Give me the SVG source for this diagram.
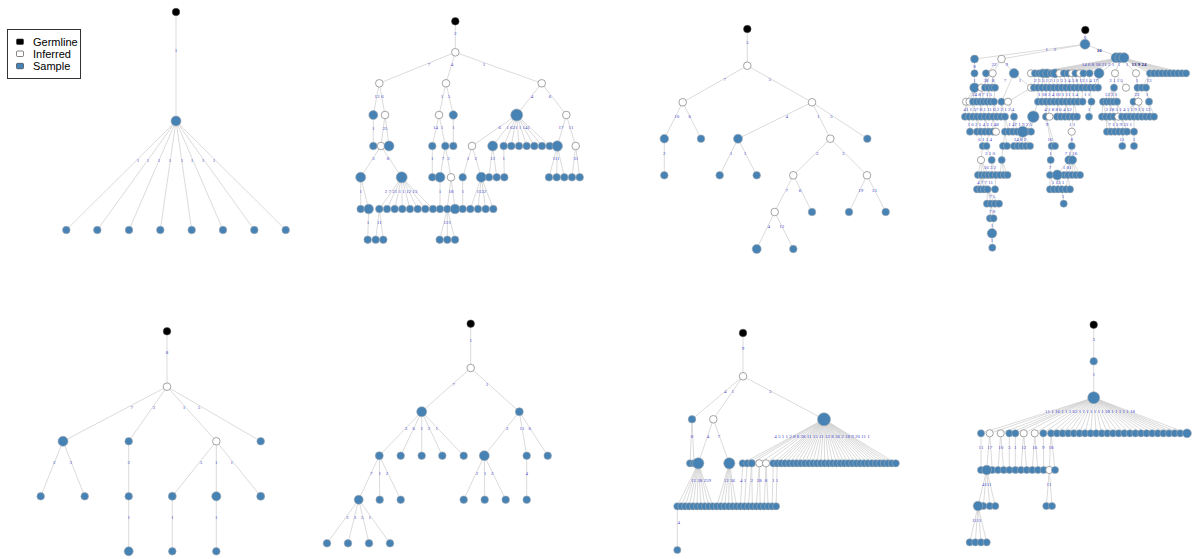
<svg xmlns="http://www.w3.org/2000/svg" width="1192" height="559" viewBox="0 0 1192 559">
<style>
.e{stroke:#d2d2d2;stroke-width:0.8;fill:none}
.s{fill:#4682b4;stroke:#a3aab2;stroke-width:0.6}
.i{fill:#fff;stroke:#8e8e8e;stroke-width:0.8}
.g{fill:#000;stroke:#555;stroke-width:0.5}
.l{font-family:"Liberation Serif",serif;font-size:5px;fill:#4848cc;text-anchor:middle}
.d{font-family:"Liberation Serif",serif;font-size:5px;fill:#1c1c8a;text-anchor:middle;font-weight:bold}
.lg{font-family:"Liberation Sans",Arial,sans-serif;font-size:11px;fill:#000}
</style>
<rect width="1192" height="559" fill="#fff"/>
<g id="legend">
<rect x="7.5" y="29.5" width="73" height="49" fill="#fff" stroke="#333" stroke-width="1"/>
<rect x="16.5" y="39" width="7" height="5.5" rx="1" fill="#000" stroke="#333" stroke-width="0.6"/>
<rect x="16.5" y="51" width="7" height="5.5" rx="1" fill="#fff" stroke="#333" stroke-width="0.6"/>
<rect x="16.5" y="63.3" width="7" height="5.5" rx="1" fill="#4682b4" stroke="#333" stroke-width="0.6"/>
<text class="lg" x="33" y="45.8">Germline</text>
<text class="lg" x="33" y="57.8">Inferred</text>
<text class="lg" x="33" y="70.1">Sample</text>
</g>
<g id="connectors">
<path class="e" d="M176 12V121M176 121L66.3 230M176 121L97.3 230M176 121L129 230M176 121L160.3 230M176 121L191.7 230M176 121L223 230M176 121L254.3 230M176 121L285.7 230"/>
<path class="e" d="M455.3 21.3V52.3M455.3 52.3L379.3 83.3M455.3 52.3L446 83.3M455.3 52.3L541.7 83.3M379.3 83.3L373.3 115M379.3 83.3L385 115M373.3 115V146M385 115L381 146M385 115L389 146M381 146L360.7 177.3M381 146L401.7 177.3M360.7 177.3V209M360.7 177.3L368.7 209M368.7 209L367.7 239.7M401.7 177.3L379.3 209M401.7 177.3L387 209M401.7 177.3L394.7 209M401.7 177.3L402.3 209M401.7 177.3L410 209M401.7 177.3L417.7 209M401.7 177.3L425.3 209M401.7 177.3L433 209M379.3 209L375.7 239.7M379.3 209L383.3 239.7M446 83.3L439 115M446 83.3L453.3 115M439 115L432.3 146M439 115L445.3 146M453.3 115V146M432.3 146V177.3M445.3 146L440 177.3M445.3 146L451 177.3M440 177.3V209M451 177.3L447.3 209M451 177.3L455 209M447.3 209L439.7 239.7M447.3 209V239.7M447.3 209L455 239.7M541.7 83.3L516.7 115M541.7 83.3L566.3 115M516.7 115L472 146M516.7 115L492.7 146M516.7 115L503.7 146M516.7 115L511.3 146M516.7 115L519 146M516.7 115L526.7 146M516.7 115L534.3 146M516.7 115L542 146M516.7 115L549.7 146M566.3 115L557.3 146M566.3 115L575.7 146M472 146L462.7 177.3M472 146L481.3 177.3M462.7 177.3V209M481.3 177.3L470.3 209M481.3 177.3L478 209M481.3 177.3L485.7 209M481.3 177.3L493.3 209M492.7 146L489 177.3M492.7 146L496.7 177.3M503.7 146L504.3 177.3M557.3 146L549 177.3M557.3 146L556.7 177.3M557.3 146L564.3 177.3M575.7 146L572 177.3M575.7 146L579.7 177.3"/>
<path class="e" d="M747.3 29V65.7M747.3 65.7L682.7 102.3M747.3 65.7L812 102.3M682.7 102.3L664.3 138.7M682.7 102.3L701 138.7M664.3 138.7V175.3M812 102.3L738 138.7M812 102.3L830.3 138.7M812 102.3L867.3 138.7M738 138.7L719.7 175.3M738 138.7L756.7 175.3M830.3 138.7L793.3 175.3M830.3 138.7L867 175.3M793.3 175.3L774.7 212M793.3 175.3L812 212M867 175.3L849 212M867 175.3L885.7 212M774.7 212L756.7 249M774.7 212L793.3 249"/>
<path class="e" d="M1085 30V44.3M1085 44.3L974.5 59M1085 44.3L1001.5 59M1085 44.3L1121 57.7M974.5 59V73.3M1001.5 59L986 73.3M1001.5 59L992.7 73.3M1001.5 59L1014 73.3M1121 57.7L1031 73.3M1121 57.7L1035 73.3M1121 57.7L1039 73.3M1121 57.7L1043 73.3M1121 57.7L1047 73.3M1121 57.7L1051 73.3M1121 57.7L1055 73.3M1121 57.7L1059.5 73.3M1121 57.7L1064 73.3M1121 57.7L1068 73.3M1121 57.7L1072 73.3M1121 57.7L1075.5 73.3M1121 57.7L1080 73.3M1121 57.7L1083.5 73.3M1121 57.7L1089.5 73.3M1121 57.7L1099 73.3M1121 57.7L1115 73.3M1121 57.7L1136 73.3M1121 57.7L1150 73.3M1121 57.7L1154 73.3M1121 57.7L1158 73.3M1121 57.7L1162 73.3M1121 57.7L1166 73.3M1121 57.7L1170 73.3M1121 57.7L1174 73.3M1121 57.7L1178 73.3M1121 57.7L1182 73.3M1121 57.7L1186 73.3M974.5 73.3V87.7M986 73.3L985 87.7M986 73.3L988.5 87.7M992.7 73.3L992 87.7M992.7 73.3L995 87.7M992.7 73.3L981.5 87.7M1014 73.3L1031 87.7M1014 73.3L1001.5 101.7M1035 73.3L1034 87.7M1039 73.3L1038 87.7M1043 73.3L1042 87.7M1043 73.3L1046 87.7M1047 73.3L1050 87.7M1051 73.3L1054 87.7M1055 73.3L1058 87.7M1059.5 73.3L1062 87.7M1064 73.3L1066 87.7M1068 73.3L1070 87.7M1072 73.3L1074 87.7M1075.5 73.3L1078 87.7M1080 73.3L1082 87.7M1083.5 73.3L1086 87.7M1089.5 73.3L1090 87.7M1099 73.3L1094 87.7M1099 73.3L1098 87.7M1115 73.3L1114 87.7M1115 73.3L1126 87.7M1136 73.3L1137.5 87.7M1150 73.3L1142 87.7M1150 73.3L1146 87.7M974.5 87.7L966 101.7M974.5 87.7L969.5 101.7M974.5 87.7L973 101.7M974.5 87.7L976.5 101.7M981.5 87.7L980 101.7M981.5 87.7L983.5 101.7M988.5 87.7L987 101.7M988.5 87.7L990.5 101.7M995 87.7L994 101.7M1031 87.7L1008 101.7M1038 87.7V101.7M1042 87.7V101.7M1046 87.7V101.7M1050 87.7V101.7M1054 87.7V101.7M1058 87.7V101.7M1062 87.7V101.7M1066 87.7V101.7M1070 87.7V101.7M1074 87.7V101.7M1078 87.7V101.7M1082 87.7L1082.5 101.7M1090 87.7L1091.5 101.7M1114 87.7L1103 101.7M1114 87.7L1106.5 101.7M1114 87.7L1110 101.7M1114 87.7L1113.5 101.7M1114 87.7L1117 101.7M1137.5 87.7L1133.5 101.7M1137.5 87.7L1138.5 101.7M1146 87.7L1149 101.7M966 101.7L965 116.7M966 101.7L969 116.7M973 101.7V116.7M973 101.7L977 116.7M980 101.7L981 116.7M980 101.7L985 116.7M987 101.7L989 116.7M994 101.7L993 116.7M994 101.7L997 116.7M1001.5 101.7L1001 116.7M1001.5 101.7L1005 116.7M1008 101.7L1014 116.7M1038 101.7L1033.3 116.7M1046 101.7V116.7M1046 101.7L1049.5 116.7M1058 101.7L1057 116.7M1058 101.7L1061 116.7M1066 101.7L1065 116.7M1066 101.7L1069 116.7M1074 101.7L1073 116.7M1074 101.7L1077 116.7M1091.5 101.7L1089 116.7M1103 101.7L1102 116.7M1103 101.7L1106 116.7M1110 101.7V116.7M1110 101.7L1114 116.7M1117 101.7L1118.3 116.7M1117 101.7L1122 116.7M1133.5 101.7L1126 116.7M1133.5 101.7L1130 116.7M1133.5 101.7L1134 116.7M1138.5 101.7L1138 116.7M1138.5 101.7L1142 116.7M1138.5 101.7L1146 116.7M1149 101.7L1150 116.7M1149 101.7L1154 116.7M969 116.7L970 131.7M977 116.7V131.7M977 116.7L981 131.7M985 116.7V131.7M985 116.7L989 131.7M993 116.7V131.7M993 116.7L996 131.7M1005 116.7V131.7M1005 116.7L1009 131.7M1014 116.7L1013 131.7M1014 116.7L1017 131.7M1033.3 116.7L1022.7 131.7M1033.3 116.7L1027 131.7M1033.3 116.7L1031 131.7M1073 116.7L1071.7 131.7M1106 116.7L1107 131.7M1106 116.7L1111 131.7M1114 116.7L1115 131.7M1114 116.7L1119 131.7M1122 116.7L1123 131.7M1122 116.7L1127 131.7M1134 116.7V131.7M981 131.7L982.7 146M989 131.7L986.5 146M1005 131.7L1003 146M1005 131.7L1007 146M1022.7 131.7L1014 146M1022.7 131.7L1018 146M1022.7 131.7L1022 146M1022.7 131.7L1026 146M1022.7 131.7L1030 146M1046 116.7L1051.7 146M1046 116.7L1055 146M1071.7 131.7V146M1123 131.7L1122.3 146M1134 131.7V146M982.7 146L981 160M986.5 146L991.7 160M1003 146L1001.7 160M1051.7 146L1050.7 160M1071.7 146L1069 160M1071.7 146L1072.5 160M981 160L978 175M981 160L981.5 175M981 160L985 175M981 160L988.5 175M991.7 160L992 175M991.7 160L996 175M1001.7 160L1000 175M1001.7 160L1004 175M1001.7 160L1007.5 175M1050.7 160L1050 175M1069 160L1057.3 175M1072.5 160L1064 175M1072.5 160L1068 175M1072.5 160L1072 175M1072.5 160L1076 175M1072.5 160L1080 175M981.5 175L977 189.3M981.5 175L980.5 189.3M981.5 175L984 189.3M981.5 175L987.5 189.3M996 175L995 189.3M1050 175V189.3M1050 175L1054 189.3M1057.3 175L1058 189.3M1057.3 175L1062 189.3M1068 175L1066 189.3M1068 175L1070 189.3M987.5 189.3L987 203.7M987.5 189.3L991 203.7M987.5 189.3L995 203.7M987.5 189.3L999 203.7M1062 189.3L1063.7 203.7M991 203.7L990 218.3M991 203.7L993.5 218.3M993.5 218.3L992 233.3M992 233.3L992.3 247.7"/>
<path class="e" d="M167 331.3V386.7M167 386.7L63 441.3M167 386.7L128.7 441.3M167 386.7L216.3 441.3M167 386.7L260.7 441.3M63 441.3L40.7 496.3M63 441.3L84.7 496.3M128.7 441.3V551.3M216.3 441.3L172.3 496.3M216.3 441.3V496.3M216.3 441.3L260.7 496.3M172.3 496.3V551.3M216.3 496.3V551.3"/>
<path class="e" d="M470.7 323.7V368M470.7 368L421.7 411.7M470.7 368L519.3 411.7M421.7 411.7L379.3 455.7M421.7 411.7L400.7 455.7M421.7 411.7L421.7 455.7M421.7 411.7L442.3 455.7M421.7 411.7L463.7 455.7M519.3 411.7L484.3 455.7M519.3 411.7L526.7 455.7M519.3 411.7L547.7 455.7M379.3 455.7L358.7 499.7M379.3 455.7L379.7 499.7M379.3 455.7L400.7 499.7M358.7 499.7L327 543.3M358.7 499.7L348 543.3M358.7 499.7L369 543.3M358.7 499.7L390 543.3M484.3 455.7L463.7 499.7M484.3 455.7L484.7 499.7M484.3 455.7L505.7 499.7M526.7 455.7V499.7"/>
<path class="e" d="M743 333V376.3M743 376.3L692 419.3M743 376.3L713.3 419.3M743 376.3L824 419.3M692 419.3L690 463.3M692 419.3L694 463.3M713.3 419.3L698.3 463.3M713.3 419.3L729.3 463.3M824 419.3L742.7 463.3M824 419.3L747.2 463.3M824 419.3L751.7 463.3M824 419.3L759.3 463.3M824 419.3L766 463.3M824 419.3L773.3 463.3M824 419.3L777.25 463.3M824 419.3L781.2 463.3M824 419.3L785.15 463.3M824 419.3L789.1 463.3M824 419.3L793.05 463.3M824 419.3L797 463.3M824 419.3L800.95 463.3M824 419.3L804.9 463.3M824 419.3L808.85 463.3M824 419.3L812.8 463.3M824 419.3L816.75 463.3M824 419.3L820.7 463.3M824 419.3L824.65 463.3M824 419.3L828.6 463.3M824 419.3L832.55 463.3M824 419.3L836.5 463.3M824 419.3L840.45 463.3M824 419.3L844.4 463.3M824 419.3L848.35 463.3M824 419.3L852.3 463.3M824 419.3L856.25 463.3M824 419.3L860.2 463.3M824 419.3L864.15 463.3M824 419.3L868.1 463.3M824 419.3L872.05 463.3M824 419.3L876 463.3M824 419.3L879.95 463.3M824 419.3L883.9 463.3M824 419.3L887.85 463.3M824 419.3L891.8 463.3M824 419.3L895.75 463.3M698.3 463.3L677.3 506.3M698.3 463.3L681.25 506.3M698.3 463.3L685.2 506.3M698.3 463.3L689.15 506.3M698.3 463.3L693.1 506.3M698.3 463.3L697.05 506.3M698.3 463.3L701 506.3M698.3 463.3L704.95 506.3M698.3 463.3L708.9 506.3M698.3 463.3L712.85 506.3M729.3 463.3L716.8 506.3M729.3 463.3L720.75 506.3M729.3 463.3L724.7 506.3M729.3 463.3L728.65 506.3M729.3 463.3L732.6 506.3M729.3 463.3L736.55 506.3M742.7 463.3L740.5 506.3M747.2 463.3L744.45 506.3M751.7 463.3L748.4 506.3M751.7 463.3L752.35 506.3M759.3 463.3L756.3 506.3M759.3 463.3L760.25 506.3M766 463.3L764.2 506.3M766 463.3L768.15 506.3M773.3 463.3L772.1 506.3M777.25 463.3L776.05 506.3M677.3 506.3V550"/>
<path class="e" d="M1093.7 324.7V397.7M1093.7 397.7L981 433.3M1093.7 397.7L989.7 433.3M1093.7 397.7L1000.7 433.3M1093.7 397.7L1009.3 433.3M1093.7 397.7L1015.3 433.3M1093.7 397.7L1023.7 433.3M1093.7 397.7L1034.7 433.3M1093.7 397.7L1043.3 433.3M1093.7 397.7L1051 433.3M1093.7 397.7L1057 433.3M1093.7 397.7L1062.6 433.3M1093.7 397.7L1068.2 433.3M1093.7 397.7L1073.8 433.3M1093.7 397.7L1079.4 433.3M1093.7 397.7L1085 433.3M1093.7 397.7L1090.6 433.3M1093.7 397.7L1096.2 433.3M1093.7 397.7L1101.8 433.3M1093.7 397.7L1107.4 433.3M1093.7 397.7L1113 433.3M1093.7 397.7L1118.6 433.3M1093.7 397.7L1124.2 433.3M1093.7 397.7L1129.8 433.3M1093.7 397.7L1135.4 433.3M1093.7 397.7L1141 433.3M1093.7 397.7L1146.6 433.3M1093.7 397.7L1152.2 433.3M1093.7 397.7L1157.8 433.3M1093.7 397.7L1163.4 433.3M1093.7 397.7L1169 433.3M1093.7 397.7L1174.6 433.3M1093.7 397.7L1180.2 433.3M1093.7 397.7L1187 433.3M981 433.3V470M989.7 433.3L986.7 470M989.7 433.3L992.3 470M1000.7 433.3L998 470M1000.7 433.3L1003.7 470M1009.3 433.3V470M1015.3 433.3V470M1023.7 433.3L1021 470M1023.7 433.3L1026.7 470M1034.7 433.3L1032.3 470M1034.7 433.3L1038 470M1043.3 433.3L1043.7 470M1051 433.3L1049.3 470M1051 433.3L1055 470M986.7 470L978 506M986.7 470L983.3 506M986.7 470L989.7 506M986.7 470L995.3 506M1049.3 470L1046.3 506M1049.3 470L1052 506M978 506L969.7 542.3M978 506L975.3 542.3M978 506L981 542.3M978 506L986.7 542.3"/>
</g>
<g id="edge-labels">
<text class="l" x="176" y="51.5">1</text>
<text class="l" x="138" y="161.5">1</text><text class="l" x="148" y="161.5">1</text><text class="l" x="159" y="161.5">1</text><text class="l" x="170" y="161.5">1</text><text class="l" x="182" y="161.5">1</text><text class="l" x="192" y="161.5">1</text><text class="l" x="203" y="161.5">1</text><text class="l" x="214" y="161.5">1</text>
<text class="l" x="455.3" y="35">2</text>
<text class="l" x="429" y="66">7</text><text class="l" x="452" y="66">4</text><text class="l" x="484" y="66">1</text>
<text class="l" x="377" y="97.5">13</text><text class="l" x="382.5" y="97.5">6</text>
<text class="l" x="373.3" y="129.5">1</text><text class="l" x="385" y="129.5">25</text>
<text class="l" x="373.3" y="159.5">3</text><text class="l" x="388" y="159.5">8</text>
<text class="l" x="360.7" y="192.5">1</text><text class="l" x="401" y="192.5">2 7 21 1 1 12 13</text>
<text class="l" x="368" y="223.5">1</text><text class="l" x="379.3" y="223.5">11</text>
<text class="l" x="442" y="97.5">1</text><text class="l" x="449" y="97.5">5</text>
<text class="l" x="435.5" y="128.5">14</text><text class="l" x="442" y="128.5">1</text><text class="l" x="453.3" y="128.5">1</text>
<text class="l" x="432.3" y="159.5">1</text><text class="l" x="443" y="159.5">7</text><text class="l" x="448.5" y="159.5">2</text>
<text class="l" x="440" y="192.5">1</text><text class="l" x="451" y="192.5">18</text>
<text class="l" x="447.3" y="223.5">121</text>
<text class="l" x="532" y="97.5">4</text><text class="l" x="550" y="97.5">6</text>
<text class="l" x="499.7" y="128.5">6</text><text class="l" x="518" y="128.5">1 621 1 141</text>
<text class="l" x="561" y="128.5">17</text><text class="l" x="571" y="128.5">11</text>
<text class="l" x="468" y="159.5">1</text><text class="l" x="475.7" y="159.5">2</text><text class="l" x="492.7" y="159.5">12</text><text class="l" x="503.7" y="159.5">1</text><text class="l" x="556" y="159.5">111</text><text class="l" x="575.7" y="159.5">31</text>
<text class="l" x="462.7" y="192.5">1</text><text class="l" x="481.3" y="192.5">1122</text>
<text class="l" x="747.3" y="44">5</text>
<text class="l" x="724.7" y="81">7</text><text class="l" x="769.7" y="81">5</text>
<text class="l" x="676.7" y="118">10</text><text class="l" x="689.7" y="118">6</text><text class="l" x="786.7" y="118">4</text><text class="l" x="818.3" y="118">1</text><text class="l" x="831.3" y="118">5</text>
<text class="l" x="664.3" y="155">2</text><text class="l" x="731" y="155">1</text><text class="l" x="745" y="155">1</text><text class="l" x="817.3" y="155">2</text><text class="l" x="843.3" y="155">3</text>
<text class="l" x="786.7" y="191.5">7</text><text class="l" x="800" y="191.5">6</text><text class="l" x="860.7" y="191.5">19</text><text class="l" x="874.3" y="191.5">13</text>
<text class="l" x="768.7" y="227.5">4</text><text class="l" x="781.7" y="227.5">12</text>
<text class="l" x="1085" y="39">0</text>
<text class="l" x="1046.7" y="50.5">1</text><text class="l" x="1055" y="50.5">2</text>
<text class="d" x="1099.3" y="51.5">16</text>
<text class="l" x="1098" y="66">14 6 8 18 21 2 1</text><text class="l" x="1119" y="66">1</text><text class="l" x="1127" y="66">1</text><text class="d" x="1139" y="66">13 9 24</text>
<text class="l" x="974.5" y="67.5">8</text><text class="l" x="994" y="66">22</text><text class="l" x="1006.7" y="66">9</text>
<text class="l" x="974.5" y="82">1</text><text class="l" x="986" y="82">38</text><text class="l" x="993" y="82">8</text><text class="l" x="1005" y="82">7</text><text class="l" x="1020" y="82">1</text>
<text class="l" x="1066" y="82">2 3 5 1 2 1 1 3 1 4 3 8 13 1 4 17</text><text class="l" x="1116" y="82">2 1 1 5</text><text class="l" x="1137" y="82">1</text><text class="l" x="1149" y="82">13</text>
<text class="l" x="982" y="96">24 8 7 1 5</text><text class="l" x="1058" y="96">1 18 2 4 10 1 11 1 4</text><text class="l" x="1087" y="96">1 1</text><text class="l" x="1111" y="96">13 3 1</text><text class="l" x="1137" y="96">22</text><text class="l" x="1147" y="96">1</text>
<text class="l" x="985" y="110.5">41 1 57 8 1 11 6 2 2 1</text><text class="l" x="1011" y="110.5">2 4</text><text class="l" x="1058" y="110.5">4 1 8 8 6 4 12</text><text class="l" x="1089" y="110.5">1</text><text class="l" x="1128" y="110.5">2 18 5 1 4 1 1 9 1 2 13</text>
<text class="l" x="983" y="125.5">1 6 2 1 4 3 1 48</text><text class="l" x="1020" y="125.5">1 47 1 9 2 5</text><text class="l" x="1047" y="125.5">9</text><text class="l" x="1072" y="125.5">1 1</text><text class="l" x="1120" y="125.5">7 1 3 9 23 1</text>
<text class="l" x="985" y="140.5">6 1 1 4</text><text class="l" x="1020" y="140.5">14 8 2</text><text class="l" x="1050" y="140.5">16</text><text class="l" x="1071.7" y="140.5">8</text><text class="l" x="1122" y="140.5">11</text><text class="l" x="1134" y="140.5">1</text>
<text class="l" x="990" y="154.5">3 1 0</text><text class="l" x="1050.5" y="154.5">1</text><text class="l" x="1071" y="154.5">7 1 16</text>
<text class="l" x="990" y="169">16 3 2</text><text class="l" x="1050" y="169">7</text><text class="l" x="1067" y="169">1 81</text>
<text class="l" x="985" y="183.5">4 7 7 11</text><text class="l" x="1058" y="183.5">1 13 1</text>
<text class="l" x="992" y="198">7 5</text><text class="l" x="1063" y="198">1</text>
<text class="l" x="992" y="212.5">7 8</text>
<text class="l" x="992" y="227.3">1</text>
<text class="l" x="992" y="242">1</text>
<text class="l" x="167" y="353.5">8</text>
<text class="l" x="131.7" y="408.5">7</text><text class="l" x="153.7" y="408.5">3</text><text class="l" x="184" y="408.5">1</text><text class="l" x="199" y="408.5">5</text>
<text class="l" x="54.3" y="463.5">2</text><text class="l" x="70.7" y="463.5">3</text><text class="l" x="128.7" y="463.5">2</text><text class="l" x="201" y="463.5">3</text><text class="l" x="216.3" y="463.5">1</text><text class="l" x="231.7" y="463.5">1</text>
<text class="l" x="128.7" y="518.5">1</text><text class="l" x="172.3" y="518.5">1</text><text class="l" x="216.3" y="518.5">1</text>
<text class="l" x="470.7" y="341.5">1</text>
<text class="l" x="453.7" y="385.5">7</text><text class="l" x="487" y="385.5">1</text>
<text class="l" x="406" y="430">3</text><text class="l" x="413.7" y="430">6</text><text class="l" x="421.7" y="430">1</text><text class="l" x="429" y="430">2</text><text class="l" x="436.7" y="430">1</text><text class="l" x="507" y="430">3</text><text class="l" x="522" y="430">11</text><text class="l" x="529.7" y="430">6</text>
<text class="l" x="371.3" y="475">7</text><text class="l" x="379.7" y="475">1</text><text class="l" x="387" y="475">2</text><text class="l" x="477" y="475">2</text><text class="l" x="485" y="475">1</text><text class="l" x="492.3" y="475">2</text><text class="l" x="526.7" y="475">4</text>
<text class="l" x="347.3" y="518.5">2</text><text class="l" x="355" y="518.5">3</text><text class="l" x="362.3" y="518.5">5</text><text class="l" x="369.7" y="518.5">1</text>
<text class="l" x="743" y="350">9</text>
<text class="l" x="725.3" y="392.5">4</text><text class="l" x="732.7" y="392.5">1</text><text class="l" x="770.3" y="392.5">5</text>
<text class="l" x="692" y="438">8</text><text class="l" x="708" y="438">4</text><text class="l" x="719" y="438">7</text>
<text class="l" x="822" y="438">4 5 1 1 2 8 8 38 11 15 11 12 8 36 2 18 9 20 11 1</text>
<text class="l" x="701" y="482">12 38 259</text><text class="l" x="729.3" y="482">12 36</text><text class="l" x="743" y="482">4 1</text><text class="l" x="751.7" y="482">2</text><text class="l" x="759.3" y="482">28</text><text class="l" x="766" y="482">8</text><text class="l" x="775.2" y="482">1 1</text>
<text class="l" x="678.7" y="523.5">4</text>
<text class="l" x="1093.7" y="340.5">3</text><text class="l" x="1093.7" y="375.5">1</text>
<text class="l" x="1090" y="412.5">11 1 16 1 1 1 62 1 1 1 1 1 1 1 28 1 1 1 1 1 18</text>
<text class="l" x="981" y="448.5">11</text><text class="l" x="989.7" y="448.5">17</text><text class="l" x="1000.7" y="448.5">10</text><text class="l" x="1009.3" y="448.5">3</text><text class="l" x="1015.3" y="448.5">1</text><text class="l" x="1023.7" y="448.5">12</text><text class="l" x="1034.7" y="448.5">16</text><text class="l" x="1043.3" y="448.5">9</text><text class="l" x="1051" y="448.5">18</text>
<text class="l" x="986.7" y="485.5">4111</text><text class="l" x="1049" y="485.5">11</text>
<text class="l" x="976.7" y="521.5">1111</text>
</g>
<g id="tree1">
<g id="t1-germline"><circle class="g" cx="176" cy="12" r="3.8"/></g>
<g id="t1-n1"><circle class="s" cx="176" cy="121" r="5"/></g>
<g id="t1-leaves"><circle class="s" cx="66.3" cy="230" r="3.8"/><circle class="s" cx="97.3" cy="230" r="3.8"/><circle class="s" cx="129" cy="230" r="3.8"/><circle class="s" cx="160.3" cy="230" r="3.8"/><circle class="s" cx="191.7" cy="230" r="3.8"/><circle class="s" cx="223" cy="230" r="3.8"/><circle class="s" cx="254.3" cy="230" r="3.8"/><circle class="s" cx="285.7" cy="230" r="3.8"/></g>
</g>
<g id="tree2">
<g id="t2-germline"><circle class="g" cx="455.3" cy="21.3" r="3.8"/></g>
<g id="t2-inferred"><circle class="i" cx="455.3" cy="52.3" r="3.8"/><circle class="i" cx="379.3" cy="83.3" r="3.8"/><circle class="i" cx="446" cy="83.3" r="3.8"/><circle class="i" cx="541.7" cy="83.3" r="3.8"/><circle class="i" cx="385" cy="115" r="3.8"/><circle class="i" cx="439" cy="115" r="3.8"/><circle class="i" cx="566.3" cy="115" r="3.8"/><circle class="i" cx="381" cy="146" r="3.8"/><circle class="i" cx="472" cy="146" r="3.8"/><circle class="i" cx="575.7" cy="146" r="3.8"/><circle class="i" cx="451" cy="177.3" r="3.8"/></g>
<g id="t2-row115"><circle class="s" cx="373.3" cy="115" r="4.5"/><circle class="s" cx="453.3" cy="115" r="4.2"/><circle class="s" cx="516.7" cy="115" r="6"/></g>
<g id="t2-row146"><circle class="s" cx="373.3" cy="146" r="3.8"/><circle class="s" cx="389" cy="146" r="5"/><circle class="s" cx="432.3" cy="146" r="3.8"/><circle class="s" cx="445.3" cy="146" r="3.8"/><circle class="s" cx="453.3" cy="146" r="3.8"/><circle class="s" cx="492.7" cy="146" r="5"/><circle class="s" cx="503.7" cy="146" r="3.8"/><circle class="s" cx="511.3" cy="146" r="3.8"/><circle class="s" cx="519" cy="146" r="3.8"/><circle class="s" cx="526.7" cy="146" r="3.8"/><circle class="s" cx="534.3" cy="146" r="3.8"/><circle class="s" cx="542" cy="146" r="3.8"/><circle class="s" cx="549.7" cy="146" r="3.8"/><circle class="s" cx="557.3" cy="146" r="5.2"/></g>
<g id="t2-row177"><circle class="s" cx="360.7" cy="177.3" r="5"/><circle class="s" cx="401.7" cy="177.3" r="5.5"/><circle class="s" cx="432.3" cy="177.3" r="3.8"/><circle class="s" cx="440" cy="177.3" r="5"/><circle class="s" cx="462.7" cy="177.3" r="3.8"/><circle class="s" cx="481.3" cy="177.3" r="5"/><circle class="s" cx="489" cy="177.3" r="3.8"/><circle class="s" cx="496.7" cy="177.3" r="3.8"/><circle class="s" cx="504.3" cy="177.3" r="3.8"/><circle class="s" cx="549" cy="177.3" r="3.8"/><circle class="s" cx="556.7" cy="177.3" r="3.8"/><circle class="s" cx="564.3" cy="177.3" r="3.8"/><circle class="s" cx="572" cy="177.3" r="3.8"/><circle class="s" cx="579.7" cy="177.3" r="3.8"/></g>
<g id="t2-row209"><circle class="s" cx="360.7" cy="209" r="3.8"/><circle class="s" cx="368.7" cy="209" r="4.8"/><circle class="s" cx="379.3" cy="209" r="3.8"/><circle class="s" cx="387" cy="209" r="3.8"/><circle class="s" cx="394.7" cy="209" r="3.8"/><circle class="s" cx="402.3" cy="209" r="3.8"/><circle class="s" cx="410" cy="209" r="3.8"/><circle class="s" cx="417.7" cy="209" r="3.8"/><circle class="s" cx="425.3" cy="209" r="3.8"/><circle class="s" cx="433" cy="209" r="3.8"/><circle class="s" cx="440" cy="209" r="3.8"/><circle class="s" cx="447.3" cy="209" r="3.8"/><circle class="s" cx="455" cy="209" r="4.8"/><circle class="s" cx="462.7" cy="209" r="3.8"/><circle class="s" cx="470.3" cy="209" r="3.8"/><circle class="s" cx="478" cy="209" r="3.8"/><circle class="s" cx="485.7" cy="209" r="3.8"/><circle class="s" cx="493.3" cy="209" r="3.8"/></g>
<g id="t2-row240"><circle class="s" cx="367.7" cy="239.7" r="3.8"/><circle class="s" cx="375.7" cy="239.7" r="3.8"/><circle class="s" cx="383.3" cy="239.7" r="3.8"/><circle class="s" cx="439.7" cy="239.7" r="3.8"/><circle class="s" cx="447.3" cy="239.7" r="3.8"/><circle class="s" cx="455" cy="239.7" r="3.8"/></g>
</g>
<g id="tree3">
<g id="t3-germline"><circle class="g" cx="747.3" cy="29" r="3.8"/></g>
<g id="t3-inferred"><circle class="i" cx="747.3" cy="65.7" r="3.8"/><circle class="i" cx="682.7" cy="102.3" r="3.8"/><circle class="i" cx="812" cy="102.3" r="3.8"/><circle class="i" cx="830.3" cy="138.7" r="3.8"/><circle class="i" cx="793.3" cy="175.3" r="3.8"/><circle class="i" cx="867" cy="175.3" r="3.8"/><circle class="i" cx="774.7" cy="212" r="3.8"/></g>
<g id="t3-samples"><circle class="s" cx="664.3" cy="138.7" r="4.3"/><circle class="s" cx="701" cy="138.7" r="3.8"/><circle class="s" cx="738" cy="138.7" r="4.5"/><circle class="s" cx="867.3" cy="138.7" r="3.8"/><circle class="s" cx="664.3" cy="175.3" r="3.8"/><circle class="s" cx="719.7" cy="175.3" r="3.8"/><circle class="s" cx="756.7" cy="175.3" r="3.8"/><circle class="s" cx="812" cy="212" r="3.8"/><circle class="s" cx="849" cy="212" r="3.8"/><circle class="s" cx="885.7" cy="212" r="3.8"/><circle class="s" cx="756.7" cy="249" r="4.5"/><circle class="s" cx="793.3" cy="249" r="3.8"/></g>
</g>
<g id="tree4">
<g id="t4-germline"><circle class="g" cx="1085.3" cy="30" r="3.8"/></g>
<g id="t4-n1"><circle class="s" cx="1085" cy="44.3" r="5"/></g>
<g id="t4-row59"><circle class="s" cx="974.5" cy="59" r="4"/><circle class="i" cx="1001.5" cy="59" r="3.8"/><circle class="s" cx="1116" cy="57.7" r="5"/><circle class="s" cx="1120" cy="57.7" r="5"/><circle class="s" cx="1124" cy="57.7" r="5"/></g>
<g id="t4-row73"><circle class="s" cx="974.5" cy="73.3" r="3.6"/><circle class="s" cx="986" cy="73.3" r="3.6"/><circle class="i" cx="992.7" cy="73.3" r="3.6"/><circle class="s" cx="1014" cy="73.3" r="4.8"/><circle class="i" cx="1031" cy="73.3" r="3.6"/><circle class="s" cx="1035" cy="73.3" r="3.6"/><circle class="s" cx="1039" cy="73.3" r="3.6"/><circle class="s" cx="1043" cy="73.3" r="4.4"/><circle class="s" cx="1047" cy="73.3" r="4.4"/><circle class="s" cx="1051" cy="73.3" r="3.6"/><circle class="s" cx="1055" cy="73.3" r="4.4"/><circle class="i" cx="1059.5" cy="73.3" r="3.6"/><circle class="s" cx="1064" cy="73.3" r="3.6"/><circle class="s" cx="1068" cy="73.3" r="3.6"/><circle class="i" cx="1072" cy="73.3" r="3.6"/><circle class="s" cx="1075.5" cy="73.3" r="3.6"/><circle class="i" cx="1080" cy="73.3" r="3.6"/><circle class="s" cx="1083.5" cy="73.3" r="3.6"/><circle class="s" cx="1089.5" cy="73.3" r="3.6"/><circle class="s" cx="1099" cy="73.3" r="5"/><circle class="i" cx="1115" cy="73.3" r="3.6"/><circle class="i" cx="1136" cy="73.3" r="3.6"/><circle class="s" cx="1150" cy="73.3" r="3.6"/><circle class="s" cx="1154" cy="73.3" r="3.6"/><circle class="s" cx="1158" cy="73.3" r="3.6"/><circle class="s" cx="1162" cy="73.3" r="3.6"/><circle class="s" cx="1166" cy="73.3" r="3.6"/><circle class="s" cx="1170" cy="73.3" r="3.6"/><circle class="s" cx="1174" cy="73.3" r="3.6"/><circle class="s" cx="1178" cy="73.3" r="3.6"/><circle class="s" cx="1182" cy="73.3" r="3.6"/><circle class="s" cx="1186" cy="73.3" r="3.6"/></g>
<g id="t4-row88"><circle class="s" cx="974.5" cy="87.7" r="4.8"/><circle class="i" cx="981.5" cy="87.7" r="3.6"/><circle class="s" cx="985" cy="87.7" r="3.6"/><circle class="s" cx="988.5" cy="87.7" r="3.6"/><circle class="s" cx="992" cy="87.7" r="3.6"/><circle class="s" cx="995" cy="87.7" r="3.6"/><circle class="i" cx="1031" cy="87.7" r="3.6"/><circle class="s" cx="1034" cy="87.7" r="3.6"/><circle class="s" cx="1038" cy="87.7" r="3.6"/><circle class="s" cx="1042" cy="87.7" r="3.6"/><circle class="s" cx="1046" cy="87.7" r="3.6"/><circle class="s" cx="1050" cy="87.7" r="3.6"/><circle class="s" cx="1054" cy="87.7" r="3.6"/><circle class="s" cx="1058" cy="87.7" r="3.6"/><circle class="s" cx="1062" cy="87.7" r="3.6"/><circle class="s" cx="1066" cy="87.7" r="3.6"/><circle class="s" cx="1070" cy="87.7" r="3.6"/><circle class="s" cx="1074" cy="87.7" r="3.6"/><circle class="s" cx="1078" cy="87.7" r="3.6"/><circle class="s" cx="1082" cy="87.7" r="3.6"/><circle class="s" cx="1086" cy="87.7" r="3.6"/><circle class="s" cx="1090" cy="87.7" r="3.6"/><circle class="s" cx="1094" cy="87.7" r="3.6"/><circle class="s" cx="1098" cy="87.7" r="3.6"/><circle class="s" cx="1114" cy="87.7" r="3.6"/><circle class="i" cx="1126" cy="87.7" r="3.6"/><circle class="s" cx="1137.5" cy="87.7" r="3.6"/><circle class="s" cx="1142" cy="87.7" r="3.6"/><circle class="s" cx="1146" cy="87.7" r="3.6"/></g>
<g id="t4-row102"><circle class="i" cx="966" cy="101.7" r="3.6"/><circle class="i" cx="969.5" cy="101.7" r="3.6"/><circle class="s" cx="973" cy="101.7" r="3.6"/><circle class="s" cx="976.5" cy="101.7" r="3.6"/><circle class="s" cx="980" cy="101.7" r="3.6"/><circle class="s" cx="983.5" cy="101.7" r="3.6"/><circle class="s" cx="987" cy="101.7" r="3.6"/><circle class="s" cx="990.5" cy="101.7" r="3.6"/><circle class="s" cx="994" cy="101.7" r="3.6"/><circle class="s" cx="1001.5" cy="101.7" r="3.6"/><circle class="i" cx="1008" cy="101.7" r="3.6"/><circle class="s" cx="1038" cy="101.7" r="3.6"/><circle class="s" cx="1042" cy="101.7" r="3.6"/><circle class="s" cx="1046" cy="101.7" r="3.6"/><circle class="s" cx="1050" cy="101.7" r="3.6"/><circle class="s" cx="1054" cy="101.7" r="3.6"/><circle class="s" cx="1058" cy="101.7" r="3.6"/><circle class="s" cx="1062" cy="101.7" r="3.6"/><circle class="s" cx="1066" cy="101.7" r="3.6"/><circle class="s" cx="1070" cy="101.7" r="3.6"/><circle class="s" cx="1074" cy="101.7" r="3.6"/><circle class="s" cx="1078" cy="101.7" r="3.6"/><circle class="s" cx="1082.5" cy="101.7" r="3.6"/><circle class="s" cx="1091.5" cy="101.7" r="3.6"/><circle class="s" cx="1103" cy="101.7" r="3.6"/><circle class="s" cx="1106.5" cy="101.7" r="3.6"/><circle class="s" cx="1110" cy="101.7" r="3.6"/><circle class="s" cx="1113.5" cy="101.7" r="3.6"/><circle class="s" cx="1117" cy="101.7" r="3.6"/><circle class="s" cx="1133.5" cy="101.7" r="3.6"/><circle class="i" cx="1138.5" cy="101.7" r="3.6"/><circle class="s" cx="1149" cy="101.7" r="3.6"/></g>
<g id="t4-row117"><circle class="s" cx="965" cy="116.7" r="3.6"/><circle class="s" cx="969" cy="116.7" r="3.6"/><circle class="s" cx="973" cy="116.7" r="3.6"/><circle class="s" cx="977" cy="116.7" r="3.6"/><circle class="s" cx="981" cy="116.7" r="3.6"/><circle class="s" cx="985" cy="116.7" r="3.6"/><circle class="s" cx="989" cy="116.7" r="3.6"/><circle class="s" cx="993" cy="116.7" r="3.6"/><circle class="s" cx="997" cy="116.7" r="3.6"/><circle class="s" cx="1001" cy="116.7" r="3.6"/><circle class="s" cx="1005" cy="116.7" r="3.6"/><circle class="s" cx="1014" cy="116.7" r="3.6"/><circle class="s" cx="1033.3" cy="116.7" r="5.8"/><circle class="s" cx="1046" cy="116.7" r="3.6"/><circle class="i" cx="1049.5" cy="116.7" r="3.6"/><circle class="s" cx="1057" cy="116.7" r="3.6"/><circle class="s" cx="1061" cy="116.7" r="3.6"/><circle class="s" cx="1065" cy="116.7" r="3.6"/><circle class="s" cx="1069" cy="116.7" r="3.6"/><circle class="s" cx="1073" cy="116.7" r="3.6"/><circle class="s" cx="1077" cy="116.7" r="3.6"/><circle class="s" cx="1089" cy="116.7" r="3.6"/><circle class="s" cx="1102" cy="116.7" r="3.6"/><circle class="s" cx="1106" cy="116.7" r="3.6"/><circle class="s" cx="1110" cy="116.7" r="3.6"/><circle class="s" cx="1114" cy="116.7" r="3.6"/><circle class="i" cx="1118.3" cy="116.7" r="3.6"/><circle class="s" cx="1122" cy="116.7" r="3.6"/><circle class="s" cx="1126" cy="116.7" r="3.6"/><circle class="s" cx="1130" cy="116.7" r="3.6"/><circle class="s" cx="1134" cy="116.7" r="3.6"/><circle class="s" cx="1138" cy="116.7" r="3.6"/><circle class="s" cx="1142" cy="116.7" r="3.6"/><circle class="s" cx="1146" cy="116.7" r="3.6"/><circle class="s" cx="1150" cy="116.7" r="3.6"/><circle class="s" cx="1154" cy="116.7" r="3.6"/></g>
<g id="t4-row132"><circle class="s" cx="970" cy="131.7" r="3.6"/><circle class="s" cx="977" cy="131.7" r="3.6"/><circle class="s" cx="981" cy="131.7" r="3.6"/><circle class="s" cx="985" cy="131.7" r="3.6"/><circle class="s" cx="989" cy="131.7" r="3.6"/><circle class="s" cx="993" cy="131.7" r="3.6"/><circle class="i" cx="996" cy="131.7" r="3.6"/><circle class="s" cx="1005" cy="131.7" r="3.6"/><circle class="s" cx="1009" cy="131.7" r="3.6"/><circle class="s" cx="1013" cy="131.7" r="3.6"/><circle class="s" cx="1017" cy="131.7" r="3.6"/><circle class="s" cx="1027" cy="131.7" r="3.6"/><circle class="s" cx="1031" cy="131.7" r="3.6"/><circle class="s" cx="1022.7" cy="131.7" r="5.5"/><circle class="i" cx="1071.7" cy="131.7" r="3.6"/><circle class="s" cx="1107" cy="131.7" r="3.6"/><circle class="s" cx="1111" cy="131.7" r="3.6"/><circle class="s" cx="1115" cy="131.7" r="3.6"/><circle class="s" cx="1119" cy="131.7" r="3.6"/><circle class="s" cx="1123" cy="131.7" r="3.6"/><circle class="s" cx="1127" cy="131.7" r="3.6"/><circle class="s" cx="1134" cy="131.7" r="3.6"/></g>
<g id="t4-row146"><circle class="s" cx="982.7" cy="146" r="3.6"/><circle class="s" cx="986.5" cy="146" r="3.6"/><circle class="s" cx="1003" cy="146" r="3.6"/><circle class="s" cx="1007" cy="146" r="3.6"/><circle class="s" cx="1014" cy="146" r="3.6"/><circle class="s" cx="1018" cy="146" r="3.6"/><circle class="s" cx="1022" cy="146" r="3.6"/><circle class="s" cx="1026" cy="146" r="3.6"/><circle class="s" cx="1030" cy="146" r="3.6"/><circle class="s" cx="1051.7" cy="146" r="3.6"/><circle class="s" cx="1055" cy="146" r="3.6"/><circle class="s" cx="1071.7" cy="146" r="3.6"/><circle class="s" cx="1122.3" cy="146" r="3.6"/><circle class="s" cx="1134" cy="146" r="3.6"/></g>
<g id="t4-row160"><circle class="i" cx="981" cy="160" r="3.6"/><circle class="s" cx="991.7" cy="160" r="3.6"/><circle class="s" cx="1001.7" cy="160" r="3.6"/><circle class="s" cx="1050.7" cy="160" r="3.6"/><circle class="s" cx="1069" cy="160" r="4.2"/><circle class="s" cx="1072.5" cy="160" r="4.2"/></g>
<g id="t4-row175"><circle class="s" cx="978" cy="175" r="3.6"/><circle class="s" cx="981.5" cy="175" r="3.6"/><circle class="s" cx="985" cy="175" r="3.6"/><circle class="s" cx="988.5" cy="175" r="3.6"/><circle class="s" cx="992" cy="175" r="3.6"/><circle class="s" cx="996" cy="175" r="3.6"/><circle class="s" cx="1000" cy="175" r="3.6"/><circle class="s" cx="1004" cy="175" r="3.6"/><circle class="s" cx="1007.5" cy="175" r="3.6"/><circle class="s" cx="1050" cy="175" r="3.6"/><circle class="s" cx="1064" cy="175" r="3.6"/><circle class="s" cx="1068" cy="175" r="3.6"/><circle class="s" cx="1072" cy="175" r="3.6"/><circle class="s" cx="1076" cy="175" r="3.6"/><circle class="s" cx="1080" cy="175" r="3.6"/><circle class="s" cx="1057.3" cy="175" r="5"/></g>
<g id="t4-row189"><circle class="s" cx="977" cy="189.3" r="3.6"/><circle class="s" cx="980.5" cy="189.3" r="3.6"/><circle class="s" cx="984" cy="189.3" r="3.6"/><circle class="s" cx="987.5" cy="189.3" r="3.6"/><circle class="s" cx="995" cy="189.3" r="3.6"/><circle class="s" cx="1050" cy="189.3" r="3.6"/><circle class="s" cx="1054" cy="189.3" r="3.6"/><circle class="s" cx="1058" cy="189.3" r="3.6"/><circle class="s" cx="1062" cy="189.3" r="3.6"/><circle class="s" cx="1066" cy="189.3" r="3.6"/><circle class="s" cx="1070" cy="189.3" r="3.6"/></g>
<g id="t4-row204"><circle class="s" cx="987" cy="203.7" r="3.6"/><circle class="s" cx="991" cy="203.7" r="3.6"/><circle class="s" cx="995" cy="203.7" r="3.6"/><circle class="s" cx="999" cy="203.7" r="3.6"/><circle class="s" cx="1063.7" cy="203.7" r="3.6"/></g>
<g id="t4-row218"><circle class="s" cx="990" cy="218.3" r="3.6"/><circle class="s" cx="993.5" cy="218.3" r="3.6"/></g>
<g id="t4-row233"><circle class="s" cx="992" cy="233.3" r="4.8"/></g>
<g id="t4-row248"><circle class="s" cx="992.3" cy="247.7" r="3.6"/></g>
</g>
<g id="tree5">
<g id="t5-germline"><circle class="g" cx="167" cy="331.3" r="3.8"/></g>
<g id="t5-inferred"><circle class="i" cx="167" cy="386.7" r="3.8"/><circle class="i" cx="216.3" cy="441.3" r="3.8"/></g>
<g id="t5-samples"><circle class="s" cx="63" cy="441.3" r="5"/><circle class="s" cx="128.7" cy="441.3" r="3.8"/><circle class="s" cx="260.7" cy="441.3" r="3.8"/><circle class="s" cx="40.7" cy="496.3" r="3.8"/><circle class="s" cx="84.7" cy="496.3" r="3.8"/><circle class="s" cx="128.7" cy="496.3" r="3.8"/><circle class="s" cx="172.3" cy="496.3" r="4"/><circle class="s" cx="216.3" cy="496.3" r="4.6"/><circle class="s" cx="260.7" cy="496.3" r="4"/><circle class="s" cx="128.7" cy="551.3" r="4.5"/><circle class="s" cx="172.3" cy="551.3" r="3.8"/><circle class="s" cx="216.3" cy="551.3" r="3.8"/></g>
</g>
<g id="tree6">
<g id="t6-germline"><circle class="g" cx="470.7" cy="323.7" r="3.8"/></g>
<g id="t6-inferred"><circle class="i" cx="470.7" cy="368" r="3.8"/></g>
<g id="t6-samples"><circle class="s" cx="421.7" cy="411.7" r="5"/><circle class="s" cx="519.3" cy="411.7" r="4"/><circle class="s" cx="379.3" cy="455.7" r="4"/><circle class="s" cx="400.7" cy="455.7" r="3.8"/><circle class="s" cx="421.7" cy="455.7" r="3.8"/><circle class="s" cx="442.3" cy="455.7" r="3.8"/><circle class="s" cx="463.7" cy="455.7" r="3.8"/><circle class="s" cx="484.3" cy="455.7" r="5"/><circle class="s" cx="526.7" cy="455.7" r="3.8"/><circle class="s" cx="547.7" cy="455.7" r="3.8"/><circle class="s" cx="358.7" cy="499.7" r="4.5"/><circle class="s" cx="379.7" cy="499.7" r="3.8"/><circle class="s" cx="400.7" cy="499.7" r="3.8"/><circle class="s" cx="463.7" cy="499.7" r="3.8"/><circle class="s" cx="484.7" cy="499.7" r="3.8"/><circle class="s" cx="505.7" cy="499.7" r="3.8"/><circle class="s" cx="526.7" cy="499.7" r="3.8"/><circle class="s" cx="327" cy="543.3" r="3.8"/><circle class="s" cx="348" cy="543.3" r="3.8"/><circle class="s" cx="369" cy="543.3" r="3.8"/><circle class="s" cx="390" cy="543.3" r="3.8"/></g>
</g>
<g id="tree7">
<g id="t7-germline"><circle class="g" cx="743" cy="333" r="3.8"/></g>
<g id="t7-inferred"><circle class="i" cx="743" cy="376.3" r="3.8"/><circle class="i" cx="713.3" cy="419.3" r="3.8"/></g>
<g id="t7-row419"><circle class="s" cx="692" cy="419.3" r="3.8"/><circle class="s" cx="824" cy="419.3" r="6.5"/></g>
<g id="t7-row463"><circle class="s" cx="690" cy="463.3" r="3.6"/><circle class="s" cx="694" cy="463.3" r="3.6"/><circle class="s" cx="698.3" cy="463.3" r="5.6"/><circle class="s" cx="729.3" cy="463.3" r="5.6"/><circle class="s" cx="742.7" cy="463.3" r="3.6"/><circle class="s" cx="747.2" cy="463.3" r="3.6"/><circle class="s" cx="751.7" cy="463.3" r="3.8"/><circle class="i" cx="759.3" cy="463.3" r="3.6"/><circle class="i" cx="766" cy="463.3" r="3.6"/><circle class="s" cx="773.3" cy="463.3" r="3.6"/><circle class="s" cx="777.25" cy="463.3" r="3.6"/><circle class="s" cx="781.2" cy="463.3" r="3.6"/><circle class="s" cx="785.15" cy="463.3" r="3.6"/><circle class="s" cx="789.1" cy="463.3" r="3.6"/><circle class="s" cx="793.05" cy="463.3" r="3.6"/><circle class="s" cx="797" cy="463.3" r="3.6"/><circle class="s" cx="800.95" cy="463.3" r="3.6"/><circle class="s" cx="804.9" cy="463.3" r="3.6"/><circle class="s" cx="808.85" cy="463.3" r="3.6"/><circle class="s" cx="812.8" cy="463.3" r="3.6"/><circle class="s" cx="816.75" cy="463.3" r="3.6"/><circle class="s" cx="820.7" cy="463.3" r="3.6"/><circle class="s" cx="824.65" cy="463.3" r="3.6"/><circle class="s" cx="828.6" cy="463.3" r="3.6"/><circle class="s" cx="832.55" cy="463.3" r="3.6"/><circle class="s" cx="836.5" cy="463.3" r="3.6"/><circle class="s" cx="840.45" cy="463.3" r="3.6"/><circle class="s" cx="844.4" cy="463.3" r="3.6"/><circle class="s" cx="848.35" cy="463.3" r="3.6"/><circle class="s" cx="852.3" cy="463.3" r="3.6"/><circle class="s" cx="856.25" cy="463.3" r="3.6"/><circle class="s" cx="860.2" cy="463.3" r="3.6"/><circle class="s" cx="864.15" cy="463.3" r="3.6"/><circle class="s" cx="868.1" cy="463.3" r="3.6"/><circle class="s" cx="872.05" cy="463.3" r="3.6"/><circle class="s" cx="876" cy="463.3" r="3.6"/><circle class="s" cx="879.95" cy="463.3" r="3.6"/><circle class="s" cx="883.9" cy="463.3" r="3.6"/><circle class="s" cx="887.85" cy="463.3" r="3.6"/><circle class="s" cx="891.8" cy="463.3" r="3.6"/><circle class="s" cx="895.75" cy="463.3" r="3.6"/></g>
<g id="t7-row506"><circle class="s" cx="677.3" cy="506.3" r="3.6"/><circle class="s" cx="681.25" cy="506.3" r="3.6"/><circle class="s" cx="685.2" cy="506.3" r="3.6"/><circle class="s" cx="689.15" cy="506.3" r="3.6"/><circle class="s" cx="693.1" cy="506.3" r="3.6"/><circle class="s" cx="697.05" cy="506.3" r="3.6"/><circle class="s" cx="701" cy="506.3" r="3.6"/><circle class="s" cx="704.95" cy="506.3" r="3.6"/><circle class="s" cx="708.9" cy="506.3" r="3.6"/><circle class="s" cx="712.85" cy="506.3" r="3.6"/><circle class="s" cx="716.8" cy="506.3" r="3.6"/><circle class="s" cx="720.75" cy="506.3" r="3.6"/><circle class="s" cx="724.7" cy="506.3" r="3.6"/><circle class="s" cx="728.65" cy="506.3" r="3.6"/><circle class="s" cx="732.6" cy="506.3" r="3.6"/><circle class="s" cx="736.55" cy="506.3" r="3.6"/><circle class="s" cx="740.5" cy="506.3" r="3.6"/><circle class="s" cx="744.45" cy="506.3" r="3.6"/><circle class="s" cx="748.4" cy="506.3" r="3.6"/><circle class="s" cx="752.35" cy="506.3" r="3.6"/><circle class="s" cx="756.3" cy="506.3" r="3.6"/><circle class="s" cx="760.25" cy="506.3" r="3.6"/><circle class="s" cx="764.2" cy="506.3" r="3.6"/><circle class="s" cx="768.15" cy="506.3" r="3.6"/><circle class="s" cx="772.1" cy="506.3" r="3.6"/><circle class="s" cx="776.05" cy="506.3" r="3.6"/></g>
<g id="t7-leaf"><circle class="s" cx="677.3" cy="550" r="3.6"/></g>
</g>
<g id="tree8">
<g id="t8-germline"><circle class="g" cx="1093.7" cy="324.7" r="3.8"/></g>
<g id="t8-n1"><circle class="s" cx="1093.7" cy="361.3" r="3.8"/></g>
<g id="t8-n2"><circle class="s" cx="1093.7" cy="397.7" r="6"/></g>
<g id="t8-row433"><circle class="s" cx="981" cy="433.3" r="3.6"/><circle class="i" cx="989.7" cy="433.3" r="3.6"/><circle class="i" cx="1000.7" cy="433.3" r="3.6"/><circle class="s" cx="1009.3" cy="433.3" r="3.6"/><circle class="s" cx="1015.3" cy="433.3" r="3.6"/><circle class="i" cx="1023.7" cy="433.3" r="3.6"/><circle class="i" cx="1034.7" cy="433.3" r="3.6"/><circle class="s" cx="1043.3" cy="433.3" r="3.6"/><circle class="s" cx="1051" cy="433.3" r="3.6"/><circle class="s" cx="1057" cy="433.3" r="3.6"/><circle class="s" cx="1062.6" cy="433.3" r="3.6"/><circle class="s" cx="1068.2" cy="433.3" r="3.6"/><circle class="s" cx="1073.8" cy="433.3" r="3.6"/><circle class="s" cx="1079.4" cy="433.3" r="3.6"/><circle class="s" cx="1085" cy="433.3" r="3.6"/><circle class="s" cx="1090.6" cy="433.3" r="3.6"/><circle class="s" cx="1096.2" cy="433.3" r="3.6"/><circle class="s" cx="1101.8" cy="433.3" r="3.6"/><circle class="s" cx="1107.4" cy="433.3" r="3.6"/><circle class="s" cx="1113" cy="433.3" r="3.6"/><circle class="s" cx="1118.6" cy="433.3" r="3.6"/><circle class="s" cx="1124.2" cy="433.3" r="3.6"/><circle class="s" cx="1129.8" cy="433.3" r="3.6"/><circle class="s" cx="1135.4" cy="433.3" r="3.6"/><circle class="s" cx="1141" cy="433.3" r="3.6"/><circle class="s" cx="1146.6" cy="433.3" r="3.6"/><circle class="s" cx="1152.2" cy="433.3" r="3.6"/><circle class="s" cx="1157.8" cy="433.3" r="3.6"/><circle class="s" cx="1163.4" cy="433.3" r="3.6"/><circle class="s" cx="1169" cy="433.3" r="3.6"/><circle class="s" cx="1174.6" cy="433.3" r="3.6"/><circle class="s" cx="1180.2" cy="433.3" r="3.6"/><circle class="s" cx="1187" cy="433.3" r="4.4"/></g>
<g id="t8-row470"><circle class="s" cx="981" cy="470" r="3.6"/><circle class="s" cx="992.3" cy="470" r="3.6"/><circle class="s" cx="998" cy="470" r="3.6"/><circle class="s" cx="1003.7" cy="470" r="3.6"/><circle class="s" cx="1009.3" cy="470" r="3.6"/><circle class="s" cx="1015.3" cy="470" r="3.6"/><circle class="s" cx="1021" cy="470" r="3.6"/><circle class="s" cx="1026.7" cy="470" r="3.6"/><circle class="s" cx="1032.3" cy="470" r="3.6"/><circle class="s" cx="1038" cy="470" r="3.6"/><circle class="s" cx="1043.7" cy="470" r="3.6"/><circle class="i" cx="1049.3" cy="470" r="3.6"/><circle class="s" cx="1055" cy="470" r="3.6"/><circle class="s" cx="986.7" cy="470" r="4.8"/></g>
<g id="t8-row506"><circle class="s" cx="983.3" cy="506" r="3.6"/><circle class="s" cx="989.7" cy="506" r="3.6"/><circle class="s" cx="995.3" cy="506" r="3.6"/><circle class="s" cx="978" cy="506" r="4.8"/><circle class="s" cx="1046.3" cy="506" r="3.6"/><circle class="s" cx="1052" cy="506" r="3.6"/></g>
<g id="t8-row542"><circle class="s" cx="969.7" cy="542.3" r="3.6"/><circle class="s" cx="975.3" cy="542.3" r="3.6"/><circle class="s" cx="981" cy="542.3" r="3.6"/><circle class="s" cx="986.7" cy="542.3" r="3.6"/></g>
</g>
</svg>
